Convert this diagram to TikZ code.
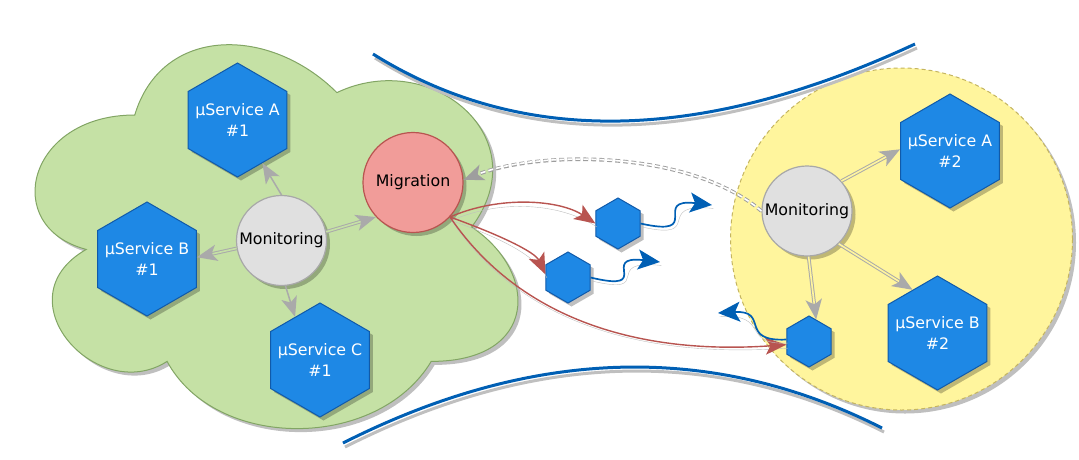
\documentclass[tikz,border=0pt]{standalone}
\usepackage{fontspec}
\setmainfont{DejaVu Sans}
\usetikzlibrary{arrows.meta,shapes.geometric,shadows}

\definecolor{cCloud}{RGB}{197,225,165}
\definecolor{cCloudLine}{RGB}{130,165,100}
\definecolor{cYellow}{RGB}{255,245,157}
\definecolor{cYellowLine}{RGB}{196,180,96}
\definecolor{cHex}{RGB}{30,136,229}
\definecolor{cHexLine}{RGB}{16,90,170}
\definecolor{cMon}{RGB}{224,224,224}
\definecolor{cMonLine}{RGB}{168,168,168}
\definecolor{cMig}{RGB}{241,156,153}
\definecolor{cMigLine}{RGB}{184,84,80}
\definecolor{cBlue}{RGB}{0,95,180}
\definecolor{cArrow}{RGB}{170,170,170}

\tikzset{
  nodeshade/.style={drop shadow={shadow xshift=3.5pt,shadow yshift=-3.5pt,fill=black,opacity=0.25}},
  lineshade/.style={preaction={draw=black!25,-,transform canvas={xshift=1.5pt,yshift=-3.5pt}}},
  hextext/.style={text=white,align=center,font=\fontsize{15.8}{21.5}\selectfont},
  hexbox/.style={regular polygon,regular polygon sides=6,shape border rotate=90,
    draw=cHexLine,fill=cHex,line width=1pt,inner sep=0pt,nodeshade},
  bighex/.style={hexbox,minimum size=114pt},
  smallhex/.style={hexbox,minimum size=51pt},
  roundbox/.style={circle,line width=1.2pt,inner sep=0pt,font=\fontsize{15.8}{18}\selectfont,nodeshade},
  monbox/.style={roundbox,draw=cMonLine,fill=cMon,minimum size=90pt},
  migbox/.style={roundbox,draw=cMigLine,fill=cMig,minimum size=100pt},
  graytip/.style={-{Stealth[length=20pt,width=16pt,inset=5pt]}},
  grayarrow/.style={draw=cArrow,line width=1.5pt,graytip},
  dblarrow/.style={draw=cArrow,line width=3.6pt,graytip,
    postaction={draw=#1,line width=1.6pt,-,shorten >=16pt}},
  dblarrow/.default=cCloud,
  dasharrow/.style={dblarrow=white,draw=black!38,dash pattern=on 5pt off 3pt},
  redarrow/.style={draw=cMigLine,line width=1.4pt,-{Stealth[length=21pt,width=17pt,inset=5pt]},lineshade},
  bluearrow/.style={draw=cBlue,line width=1.7pt,-{Stealth[length=22pt,width=20pt,inset=5pt]},lineshade},
  arcline/.style={draw=cBlue,line width=3pt,preaction={draw=black!25,line width=3pt,transform canvas={xshift=2pt,yshift=-4pt}}}
}

\begin{document}
\begin{tikzpicture}[x=1pt,y=-1pt]
\useasboundingbox (0,0) rectangle (1079,459);

%Shape: Cloud [left host]
\begin{scope}[shift={(0,3)},x=539pt,y=-448pt]
\draw[draw=cCloudLine,fill=cCloud,line width=1pt,nodeshade] (0.25,0.25) .. controls (0.05,0.25) and (0,0.5) .. (0.16,0.55)
  .. controls (0,0.66) and (0.18,0.9) .. (0.31,0.8)
  .. controls (0.4,1) and (0.7,1) .. (0.8,0.8)
  .. controls (1,0.8) and (1,0.6) .. (0.875,0.5)
  .. controls (1,0.3) and (0.8,0.1) .. (0.625,0.2)
  .. controls (0.5,0.05) and (0.3,0.05) .. (0.25,0.25) -- cycle;
\end{scope}

%Shape: Ellipse [right host]
\draw[draw=cYellowLine,fill=cYellow,line width=1pt,dash pattern=on 4pt off 3pt,nodeshade] (901.5,239) circle (171);

%Curve Lines [channel]
\draw[arcline] (373,54) .. controls (522,147) and (702,143) .. (915,44);
\draw[arcline] (343,443) .. controls (533,347) and (712,342) .. (882,428);

% left host
\node[monbox] (mon1) at (281.5,240.5) {Monitoring};
\node[migbox] (mig) at (413,182.5) {Migration};
\node[bighex,label={[hextext]center:µService A\\\#1}] (svcA1) at (237.5,120) {};
\node[bighex,label={[hextext]center:µService B\\\#1}] (svcB1) at (147,259) {};
\node[bighex,label={[hextext]center:µService C\\\#1}] (svcC1) at (320,360) {};

% right host
\node[monbox] (mon2) at (807,211) {Monitoring};
\node[bighex,label={[hextext]center:µService A\\\#2}] (svcA2) at (950,151) {};
\node[bighex,label={[hextext]center:µService B\\\#2}] (svcB2) at (937.5,333) {};

% moving parts
\node[smallhex] (partA) at (618,223.5) {};
\node[smallhex] (partB) at (568,277.5) {};
\node[smallhex] (partC) at (809,341.5) {};
\coordinate (outA) at (712,205);
\coordinate (outB) at (660,262);
\coordinate (outC) at (718,313);

%Straight Lines [monitoring]
\draw[grayarrow] (mon1.north) -- (svcA1.-60);
\draw[dblarrow] (mon1.190) -- (svcB1.2);
\draw[grayarrow] (mon1.-85) -- (svcC1.120);
\draw[dblarrow] (mon1.11) -- (mig.223);
\draw[dblarrow=cYellow] (mon2.41) -- (svcA2.178);
\draw[dblarrow=cYellow] (mon2.-46) -- (svcB2.120);
\draw[dblarrow=cYellow] (mon2.-88) -- (partC.72);

%Curve Lines [report]
\draw[dasharrow] (mon2.180) .. controls (690,150) and (540,150) .. (mig.3);

%Curve Lines [migration]
\draw[redarrow] (mig.-43) .. controls (500,195) and (560,200) .. (partA.180);
\draw[redarrow] (mig.-43) .. controls (500,235) and (535,252) .. (partB.172);
\draw[redarrow] (mig.-43) .. controls (520,320) and (640,355) .. (partC.188);

%Curve Lines [transfer]
\draw[bluearrow] (partA.east) .. controls (705,238) and (650,198) .. (outA);
\draw[bluearrow] (partB.east) .. controls (655,293) and (598,255) .. (outB);
\draw[bluearrow] (partC.175) .. controls (738,342) and (770,310) .. (outC);

\end{tikzpicture}
\end{document}
